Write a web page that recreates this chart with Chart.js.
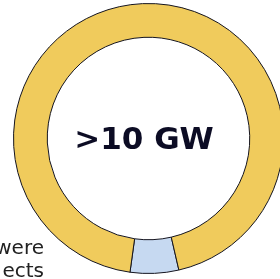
<!DOCTYPE html>
<html>
<head>
<meta charset="utf-8">
<script src="https://cdn.jsdelivr.net/npm/chart.js@4.4.0/dist/chart.umd.min.js"></script>
<style>
  html, body { margin: 0; padding: 0; background: #fff; overflow: hidden; }
  #wrap { position: relative; width: 300px; height: 279px; }
</style>
</head>
<body>
<div id="wrap"><canvas id="ringChart"></canvas></div>
<script>
// --- data ---
const segmentLabels = ['Highlighted', 'Rest'];
const segmentValues = [5.8, 94.2];
const segmentColors = ['#c6d9f1', '#f0cb5c'];
const centerLabel = '>10 GW';
const sideLines = ['were', 'ects'];

// center text + clipped side text
const textPlugin = {
    id: 'ringText',
    afterDraw(chart) {
        const c = chart.ctx;
        c.save();
        c.fillStyle = '#0c0c24';
        c.font = 'bold 31px "DejaVu Sans"';
        c.textAlign = 'center';
        c.textBaseline = 'middle';
        c.fillText(centerLabel, 144, 141);

        c.fillStyle = '#222';
        c.font = '20px "DejaVu Sans"';
        c.textAlign = 'right';
        c.textBaseline = 'alphabetic';
        sideLines.forEach((line, i) => c.fillText(line, 44, 254 + i * 23));
        c.restore();
    }
};

new Chart(document.getElementById('ringChart'), {
    type: 'doughnut',
    data: {
        labels: segmentLabels,
        datasets: [{
            data: segmentValues,
            backgroundColor: segmentColors,
            borderColor: '#14141f',
            borderWidth: 1
        }]
    },
    options: {
        responsive: true,
        maintainAspectRatio: false,
        animation: false,
        rotation: 167,
        cutout: '75%',
        events: [],
        layout: { padding: { left: 13, right: 16, top: 3, bottom: 5 } },
        plugins: {
            legend: { display: false },
            tooltip: { enabled: false }
        }
    },
    plugins: [textPlugin]
});
</script>
</body>
</html>
